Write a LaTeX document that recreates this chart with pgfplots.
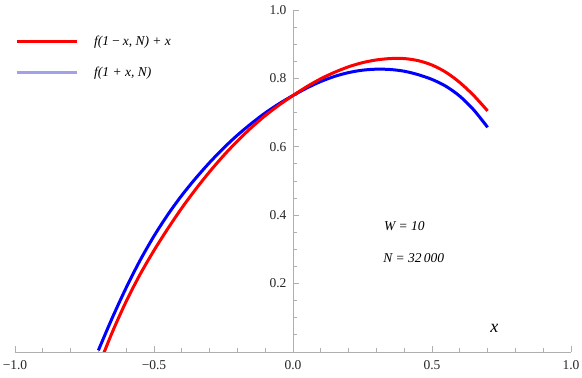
\documentclass[border=0pt]{standalone}
\usepackage{fontspec}
\setmainfont{Liberation Serif}
\usepackage{pgfplots}
\usepackage{pgfplotstable}
\pgfplotsset{compat=1.18}

\definecolor{axisgray}{RGB}{175,175,175}
\definecolor{legblue}{RGB}{160,160,235}

% blue curve: f(1+x, N)
\pgfplotstableread{
x      y
-0.70  0.005
-0.65  0.100
-0.60  0.188
-0.55  0.268
-0.50  0.339
-0.45  0.402
-0.40  0.458
-0.35  0.508
-0.30  0.554
-0.25  0.596
-0.20  0.634
-0.15  0.668
-0.10  0.699
-0.05  0.726
 0.00  0.750
 0.05  0.772
 0.10  0.791
 0.15  0.806
 0.20  0.817
 0.25  0.824
 0.30  0.827
 0.35  0.826
 0.40  0.821
 0.45  0.811
 0.50  0.797
 0.55  0.777
 0.60  0.748
 0.65  0.708
 0.70  0.657
}\bluedata

% red curve: f(1-x, N) + x
\pgfplotstableread{
x      y
-0.70 -0.043
-0.65  0.058
-0.60  0.148
-0.55  0.227
-0.50  0.297
-0.45  0.361
-0.40  0.421
-0.35  0.476
-0.30  0.527
-0.25  0.574
-0.20  0.617
-0.15  0.656
-0.10  0.691
-0.05  0.722
 0.00  0.750
 0.05  0.776
 0.10  0.799
 0.15  0.818
 0.20  0.834
 0.25  0.846
 0.30  0.854
 0.35  0.858
 0.40  0.858
 0.45  0.852
 0.50  0.839
 0.55  0.818
 0.60  0.788
 0.65  0.750
 0.70  0.705
}\reddata

\begin{document}
\begin{tikzpicture}
\begin{axis}[
  scale only axis,
  width=556bp, height=342bp,
  xmin=-1, xmax=1, ymin=0, ymax=1,
  axis lines=middle,
  axis line style={-, draw=axisgray, line width=0.8bp},
  hide obscured x ticks=false,
  xtick={-1,-0.5,0,0.5,1},
  xticklabels={−1.0,−0.5,0.0,0.5,1.0},
  minor xtick={-0.9,-0.8,-0.7,-0.6,-0.4,-0.3,-0.2,-0.1,0.1,0.2,0.3,0.4,0.6,0.7,0.8,0.9},
  ytick={0.2,0.4,0.6,0.8,1.0},
  yticklabels={0.2,0.4,0.6,0.8,1.0},
  minor ytick={0.05,0.1,0.15,0.25,0.3,0.35,0.45,0.5,0.55,0.65,0.7,0.75,0.85,0.9,0.95},
  tick align=inside,
  major tick length=6bp, minor tick length=4bp,
  tick style={draw=axisgray, line width=0.8bp},
  ticklabel style={font=\fontsize{13.5bp}{15bp}\selectfont, text=black!85},
  xticklabel style={yshift=-5bp},
  yticklabel style={xshift=-3bp},
  xlabel={\textit{x}},
  xlabel style={at={(axis description cs:0.862,0.07)}, anchor=center, font=\fontsize{18bp}{20bp}\selectfont},
  legend style={at={(axis description cs:0.0,0.93)}, anchor=north west, draw=none, fill=none,
    font=\fontsize{13.5bp}{16bp}\selectfont, row sep=16bp, inner sep=0pt,
    /tikz/every odd column/.append style={column sep=14bp}},
  legend cell align=left,
  legend image code/.code={\draw[#1] (0bp,0bp) -- (60bp,0bp);},
]
\addplot[blue, line width=3bp, smooth, forget plot] table[x=x, y=y] {\bluedata};
\addplot[red, line width=3bp, smooth, forget plot] table[x=x, y=y] {\reddata};
\addlegendimage{red, line width=3bp}
\addlegendentry{\itshape f(1\,−\,x,\ N)\ +\ x}
\addlegendimage{legblue, line width=3bp}
\addlegendentry{\itshape f(1\ +\ x,\ N)}
\node[anchor=base west, font=\itshape\fontsize{13.5bp}{15bp}\selectfont] at (axis cs:0.315,0.356) {W\ =\ 10};
\node[anchor=base west, font=\itshape\fontsize{13.5bp}{15bp}\selectfont] at (axis cs:0.312,0.262) {N\ =\ 32\,000};
\end{axis}
\pgfresetboundingbox
\path (-15bp,-26bp) rectangle (567bp,352bp);
\end{tikzpicture}
\end{document}
